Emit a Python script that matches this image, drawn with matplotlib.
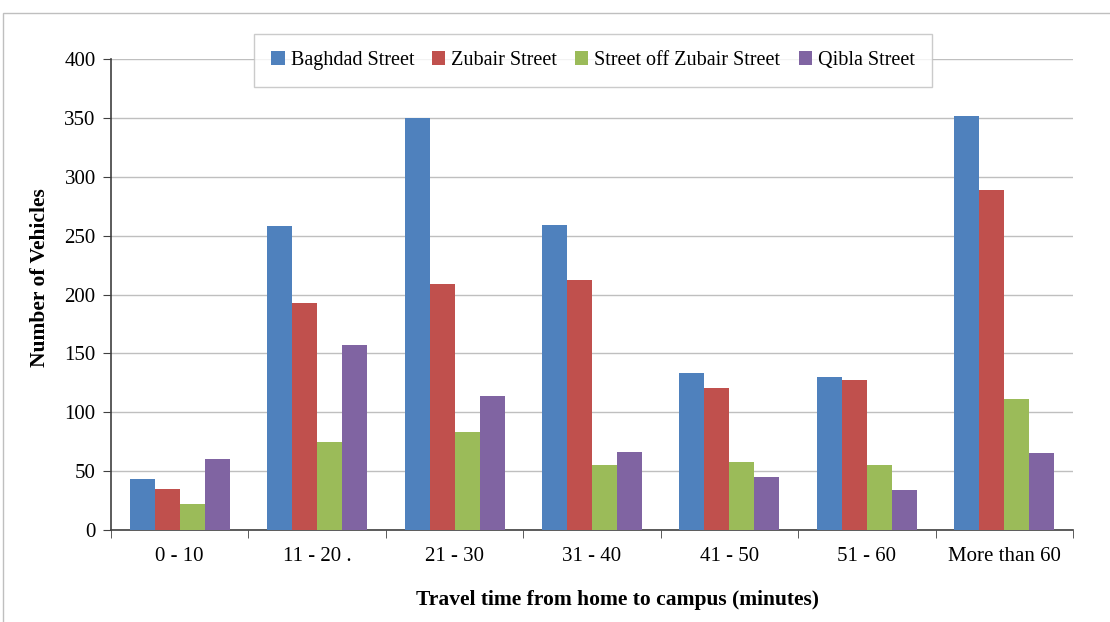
"""
Vehicles by travel time from home to campus, grouped bars per street
"""
import numpy as np
import matplotlib.pyplot as plt
from matplotlib.patches import Rectangle

categories = ['0 - 10', '11 - 20 .', '21 - 30', '31 - 40', '41 - 50', '51 - 60', 'More than 60']
streets = ['Baghdad Street', 'Zubair Street', 'Street off Zubair Street', 'Qibla Street']
baghdad = [43, 258, 350, 259, 133, 130, 352]
zubair = [35, 193, 209, 212, 121, 127, 289]
off_zubair = [22, 75, 83, 55, 58, 55, 111]
qibla = [60, 157, 114, 66, 45, 34, 65]
yticks = [0, 50, 100, 150, 200, 250, 300, 350, 400]

colors = ['#4F81BD', '#C0504D', '#9BBB59', '#8064A2']

plt.rcParams['font.family'] = ['Liberation Serif', 'DejaVu Serif']

W, H = 1110, 622
fig = plt.figure(figsize=(W / 100, H / 100), dpi=100)
ax = fig.add_axes([111 / W, 1 - 530 / H, (1073 - 111) / W, (530 - 59) / H])

x = np.arange(len(categories))
w = 0.182
series = [baghdad, zubair, off_zubair, qibla]
for i, (vals, name) in enumerate(zip(series, streets)):
    ax.bar(x + (i - 1.5) * w, vals, width=w, color=colors[i], label=name,
           zorder=3, linewidth=0)

ax.set_xlim(-0.5, len(categories) - 0.5)
ax.set_ylim(0, 400)
ax.set_yticks(yticks)
ax.tick_params(axis='y', labelsize=15, direction='out', length=6, color='#404040', pad=5)
ax.yaxis.grid(True, color='#BFBFBF', linewidth=1, zorder=0)

# category labels in the middle, tick marks on the boundaries
ax.set_xticks(x)
ax.set_xticklabels(categories, fontsize=15)
ax.tick_params(axis='x', length=0, pad=12)
ax.set_xticks(np.arange(len(categories) + 1) - 0.5, minor=True)
ax.tick_params(axis='x', which='minor', direction='out', length=6, color='#404040')

for s in ['top', 'right']:
    ax.spines[s].set_visible(False)
for s in ['left', 'bottom']:
    ax.spines[s].set_color('#404040')
    ax.spines[s].set_linewidth(1.2)

ax.set_ylabel('Number of Vehicles', fontsize=15.5, fontweight='bold')
ax.yaxis.set_label_coords((40 - 111) / (1073 - 111), (530 - 278) / (530 - 59))
ax.set_xlabel('Travel time from home to campus (minutes)', fontsize=15.5,
              fontweight='bold')
ax.xaxis.set_label_coords((618 - 111) / (1073 - 111), -(600 - 530) / (530 - 59))
ax.xaxis.label.set_va('center')
ax.yaxis.label.set_va('center')

leg = ax.legend(loc='center', bbox_to_anchor=((593 - 111) / (1073 - 111), (530 - 60.5) / (530 - 59)),
                ncol=4, fontsize=14.5, frameon=True, fancybox=False,
                handlelength=0.65, handleheight=0.65, handletextpad=0.3,
                columnspacing=0.9, borderpad=0.85, borderaxespad=0)
leg.get_frame().set_edgecolor('#BFBFBF')
leg.get_frame().set_linewidth(1)

# outer chart frame, clipped by the image edges
fig.patches.append(Rectangle((3 / W, -0.05), 1.1, 1 - 13 / H + 0.05,
                             transform=fig.transFigure, fill=False,
                             edgecolor='#BFBFBF', linewidth=1))

fig.savefig('out.png', dpi=100)
